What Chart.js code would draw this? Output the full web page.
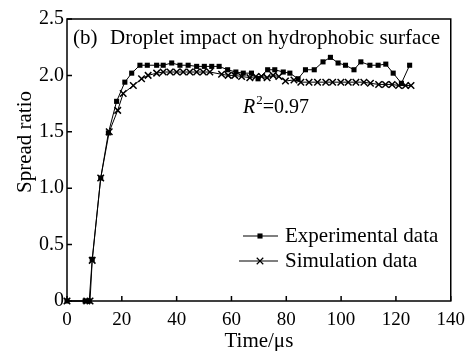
<!DOCTYPE html>
<html>
<head>
<meta charset="utf-8">
<script src="https://cdn.jsdelivr.net/npm/chart.js@4.4.0/dist/chart.umd.min.js"></script>
<style>
  html, body { margin: 0; padding: 0; background: #fff; }
</style>
</head>
<body>
<canvas id="spreadChart" width="473" height="351"></canvas>
<script>
// Data (time in microseconds, spread ratio)
const expTime = [0, 6.6, 8.1, 9.2, 12.3, 15.1, 18.1, 21.1, 23.6, 26.6, 29.3, 32.7, 35.1, 38.2, 41.2, 44.2, 47.3, 50.1, 52.8, 55.5, 58.6, 61.6, 64.3, 67.3, 69.7, 73.2, 75.8, 78.9, 81.3, 84.3, 87.0, 90.2, 93.4, 96.1, 98.9, 101.6, 104.7, 107.2, 110.5, 113.5, 116.3, 119.0, 122.0, 125.0];
const expRatio = [0, 0, 0, 0.37, 1.09, 1.49, 1.77, 1.94, 2.02, 2.09, 2.09, 2.09, 2.09, 2.11, 2.09, 2.09, 2.08, 2.08, 2.08, 2.08, 2.05, 2.03, 2.02, 2.02, 1.97, 2.05, 2.05, 2.03, 2.02, 1.97, 2.05, 2.05, 2.12, 2.16, 2.11, 2.09, 2.05, 2.12, 2.09, 2.09, 2.10, 2.02, 1.93, 2.09];

const simTime = [0, 7.2, 8.4, 9.2, 12.3, 15.4, 18.5, 20.5, 24.2, 27.2, 29.6, 32.7, 35.1, 37.6, 40.0, 42.4, 44.8, 47.3, 49.7, 52.1, 56.4, 58.8, 61.2, 63.7, 66.7, 68.9, 71.0, 73.0, 75.2, 77.3, 79.7, 82.8, 85.3, 88.3, 91.4, 94.4, 96.9, 99.9, 102.6, 105.4, 108.3, 110.7, 113.7, 116.2, 118.6, 121.0, 123.5, 125.5];
const simRatio = [0, 0, 0, 0.36, 1.09, 1.50, 1.69, 1.84, 1.91, 1.97, 2.00, 2.02, 2.03, 2.03, 2.03, 2.03, 2.03, 2.03, 2.03, 2.03, 2.01, 2.00, 2.00, 1.99, 1.98, 1.99, 1.99, 1.98, 2.00, 1.99, 1.95, 1.96, 1.94, 1.94, 1.94, 1.94, 1.94, 1.94, 1.94, 1.94, 1.94, 1.93, 1.92, 1.92, 1.92, 1.91, 1.91, 1.91];

const xTicks = [0, 20, 40, 60, 80, 100, 120, 140];
const yTicks = [0, 0.5, 1.0, 1.5, 2.0, 2.5];

const seriesNames = ['Experimental data', 'Simulation data'];
const panelTitle = 'Droplet impact on hydrophobic surface';
const fitLabel = '=0.97';

const SERIF = "'Liberation Serif', 'Times New Roman', serif";

// Draws the boxed frame, inward ticks, axis titles, legend and annotations
const frameAndText = {
    id: 'frameAndText',
    afterDraw(chart) {
        const ctx = chart.ctx;
        const a = chart.chartArea;
        const x = chart.scales.x;
        const y = chart.scales.y;
        ctx.save();
        ctx.strokeStyle = '#000';
        ctx.fillStyle = '#000';
        ctx.lineWidth = 1.5;
        ctx.strokeRect(a.left, a.top, a.right - a.left, a.bottom - a.top);

        // inward tick marks
        ctx.beginPath();
        xTicks.forEach(function (v) {
            const px = x.getPixelForValue(v);
            ctx.moveTo(px, a.bottom);
            ctx.lineTo(px, a.bottom - 5);
        });
        yTicks.forEach(function (v) {
            const py = y.getPixelForValue(v);
            ctx.moveTo(a.left, py);
            ctx.lineTo(a.left + 5, py);
        });
        ctx.stroke();

        // axis titles
        ctx.font = '21px ' + SERIF;
        ctx.textAlign = 'center';
        ctx.textBaseline = 'middle';
        ctx.fillText('Time/\u03bcs', (a.left + a.right) / 2, 341);
        ctx.save();
        ctx.translate(25, 142);
        ctx.rotate(-Math.PI / 2);
        ctx.fillText('Spread ratio', 0, 0);
        ctx.restore();

        // panel title
        ctx.textAlign = 'left';
        ctx.fillText('(b)', 73, 38);
        ctx.fillText(panelTitle, 110, 38);

        // R^2 annotation
        ctx.font = 'italic 20px ' + SERIF;
        ctx.fillText('R', 243, 108);
        let rw = ctx.measureText('R').width;
        ctx.font = '13px ' + SERIF;
        ctx.fillText('2', 243 + rw + 1, 101);
        let sw = ctx.measureText('2').width;
        ctx.font = '20px ' + SERIF;
        ctx.fillText(fitLabel, 243 + rw + sw + 1, 108);

        // legend
        const rows = [
            { y: 236, x0: 243, ds: chart.data.datasets[0] },
            { y: 261, x0: 239, ds: chart.data.datasets[1] }
        ];
        rows.forEach(function (r) {
            ctx.lineWidth = 1.2;
            ctx.beginPath();
            ctx.moveTo(r.x0, r.y);
            ctx.lineTo(278, r.y);
            ctx.stroke();
            Chart.helpers.drawPoint(ctx, {
                pointStyle: r.ds.pointStyle,
                radius: r.ds.pointRadius,
                borderWidth: r.ds.pointBorderWidth,
                rotation: 0
            }, 260, r.y);
            ctx.fillStyle = '#000';
            ctx.strokeStyle = '#000';
            ctx.font = '21px ' + SERIF;
            ctx.textAlign = 'left';
            ctx.textBaseline = 'middle';
            ctx.fillText(r.ds.label, 285, r.y);
        });
        ctx.restore();
    }
};

const ctx = document.getElementById('spreadChart').getContext('2d');

new Chart(ctx, {
    type: 'scatter',
    data: {
        datasets: [
            {
                label: seriesNames[0],
                data: expTime.map((t, i) => ({ x: t, y: expRatio[i] })),
                showLine: true,
                borderColor: '#000',
                backgroundColor: '#000',
                borderWidth: 1,
                pointStyle: 'rect',
                pointRadius: 3.6,
                pointBorderWidth: 0,
                pointBackgroundColor: '#000',
                clip: false
            },
            {
                label: seriesNames[1],
                data: simTime.map((t, i) => ({ x: t, y: simRatio[i] })),
                showLine: true,
                borderColor: '#000',
                backgroundColor: '#000',
                borderWidth: 1,
                pointStyle: 'crossRot',
                pointRadius: 4.6,
                pointBorderWidth: 1.5,
                pointBorderColor: '#000',
                clip: false
            }
        ]
    },
    options: {
        responsive: false,
        animation: false,
        devicePixelRatio: 1,
        layout: { padding: { top: 19, right: 22, left: 0, bottom: 0 } },
        plugins: {
            legend: { display: false },
            tooltip: { enabled: false }
        },
        scales: {
            x: {
                type: 'linear',
                min: 0,
                max: 140,
                grid: { display: false, drawTicks: false },
                border: { display: false },
                afterBuildTicks: function (scale) {
                    scale.ticks = xTicks.map(v => ({ value: v }));
                },
                afterFit: function (scale) { scale.height = 50; },
                ticks: {
                    padding: 8,
                    color: '#000',
                    maxRotation: 0,
                    font: { family: SERIF, size: 19 }
                }
            },
            y: {
                type: 'linear',
                min: 0,
                max: 2.5,
                grid: { display: false, drawTicks: false },
                border: { display: false },
                afterBuildTicks: function (scale) {
                    scale.ticks = yTicks.map(v => ({ value: v }));
                },
                afterFit: function (scale) { scale.width = 67; },
                ticks: {
                    padding: 3,
                    color: '#000',
                    font: { family: SERIF, size: 20 },
                    callback: function (value) {
                        return value === 0 ? '0' : value.toFixed(1);
                    }
                }
            }
        }
    },
    plugins: [frameAndText]
});
</script>
</body>
</html>
